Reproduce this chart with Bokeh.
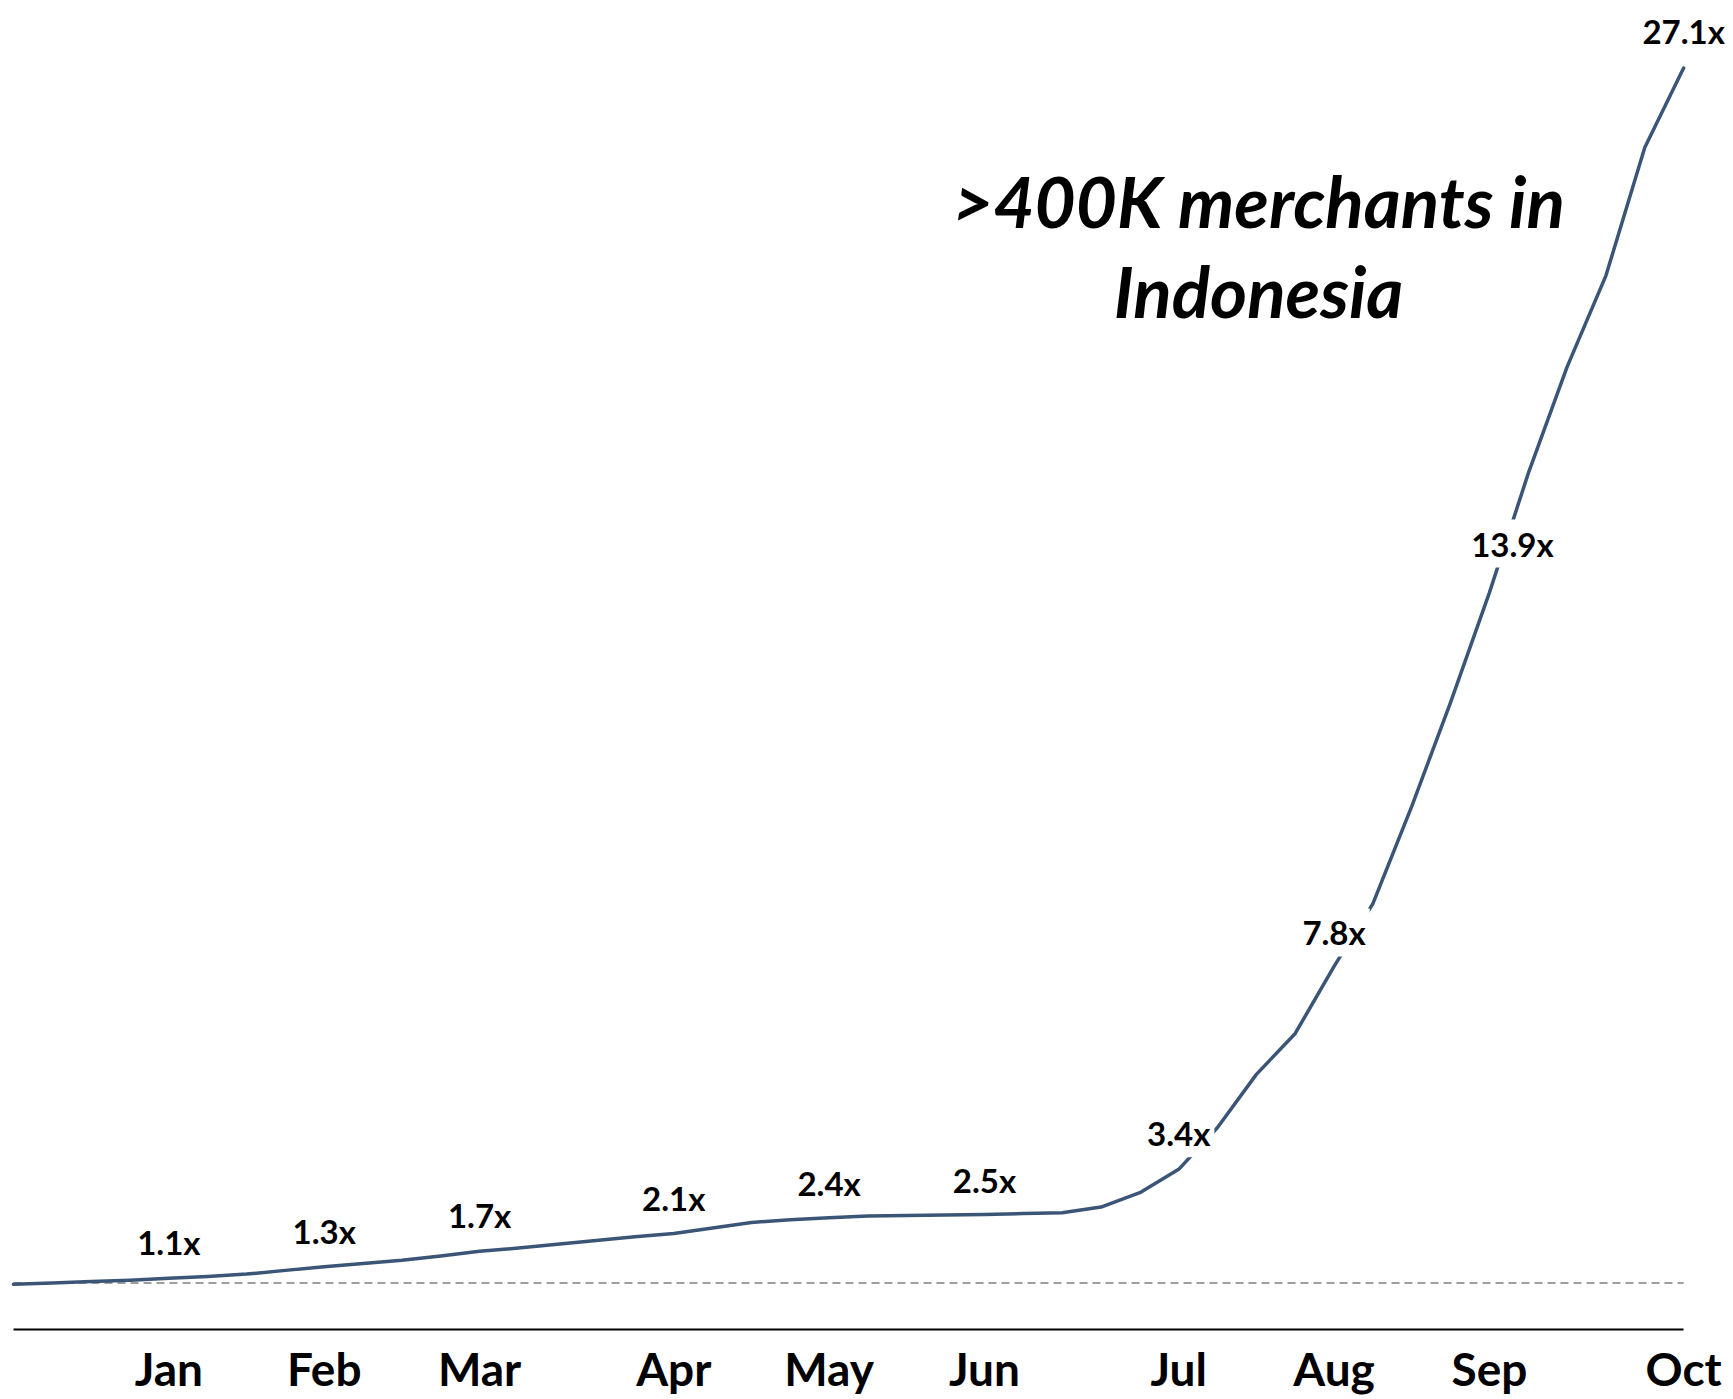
from bokeh.plotting import figure
from bokeh.models import FixedTicker, Label, ColumnDataSource
from bokeh.core.properties import value
from bokeh.embed import file_html
from bokeh.resources import INLINE

# ---- data (weekly index, Jan start = 1.0x) ----
weeks = list(range(44))
growth = [0.97, 1.00, 1.03, 1.06, 1.10, 1.14, 1.19, 1.27, 1.35, 1.42,
          1.49, 1.58, 1.68, 1.75, 1.83, 1.91, 1.99, 2.06, 2.18, 2.30,
          2.36, 2.40, 2.44, 2.45, 2.46, 2.47, 2.49, 2.51, 2.63, 2.94,
          3.44, 4.34, 5.48, 6.36, 7.80, 9.15, 11.24, 13.47, 15.83, 18.39,
          20.68, 22.64, 25.39, 27.10]
baseline = 1.0

months = ["Jan", "Feb", "Mar", "Apr", "May", "Jun", "Jul", "Aug", "Sep", "Oct"]
month_weeks = [4, 8, 12, 17, 21, 25, 30, 34, 38, 43]
month_labels = ["1.1x", "1.3x", "1.7x", "2.1x", "2.4x", "2.5x", "3.4x", "7.8x", "13.9x", "27.1x"]

# label styling offsets (pixels)
lab_dx = [0, 0, 0, 0, 0, 0, 0, 0, 23, 0]
lab_dy = [-36, -36, -36, -36, -35, -35, -36, -34, -49, -37]

FONT = "Lato"
LINE_COLOR = "#3B5577"

W, H = 1733, 1399
px_per_week = 38.84
px_per_unit = 46.55
bottom_border = 70
frame_h = H - bottom_border

x0 = -13 / px_per_week
x1 = x0 + W / px_per_week
y1 = frame_h / px_per_unit

p = figure(width=W, height=H, output_backend="svg", toolbar_location=None,
           x_range=(x0, x1), y_range=(0, y1), y_axis_location=None,
           min_border_left=0, min_border_right=0, min_border_top=0,
           min_border_bottom=bottom_border)
p.outline_line_color = None
p.xgrid.visible = False
p.ygrid.visible = False
p.background_fill_color = "white"
p.border_fill_color = "white"

ax = p.xaxis[0]
ax.ticker = FixedTicker(ticks=month_weeks)
ax.major_label_overrides = {w: m for w, m in zip(month_weeks, months)}
ax.bounds = (weeks[0], weeks[-1])
ax.axis_line_color = "black"
ax.axis_line_width = 2
ax.major_tick_line_color = None
ax.minor_tick_line_color = None
ax.major_label_text_font = FONT
ax.major_label_text_font_style = "bold"
ax.major_label_text_font_size = "46px"
ax.major_label_text_color = "black"
ax.major_label_standoff = 5

# dashed baseline
p.line(x=[weeks[0], weeks[-1]], y=[baseline, baseline], line_color="#808080",
       line_width=1.5, line_dash="8 5")

# growth line
p.line(x=weeks, y=growth, line_color=LINE_COLOR, line_width=3.5,
       line_join="round", line_cap="round")

# data labels
src = ColumnDataSource(dict(
    x=month_weeks,
    y=[growth[w] for w in month_weeks],
    t=month_labels,
    dx=lab_dx,
    dy=lab_dy,
))
p.text(x="x", y="y", text="t", x_offset="dx", y_offset="dy", source=src,
       text_align="center", text_baseline="middle",
       text_font=value(FONT), text_font_style="bold", text_font_size="33px",
       text_color="black", background_fill_color="white", padding=4)

# annotation
for txt, ybase in [(">400K merchants in", frame_h - 200), ("Indonesia", frame_h - 290)]:
    p.add_layout(Label(x=1258, y=ybase, x_units="screen", y_units="screen",
                       text=txt, text_align="center", text_baseline="alphabetic",
                       text_font=FONT, text_font_style="bold italic",
                       text_font_size="71px", text_color="black"))

open("out.html", "w").write(file_html(p, INLINE))
